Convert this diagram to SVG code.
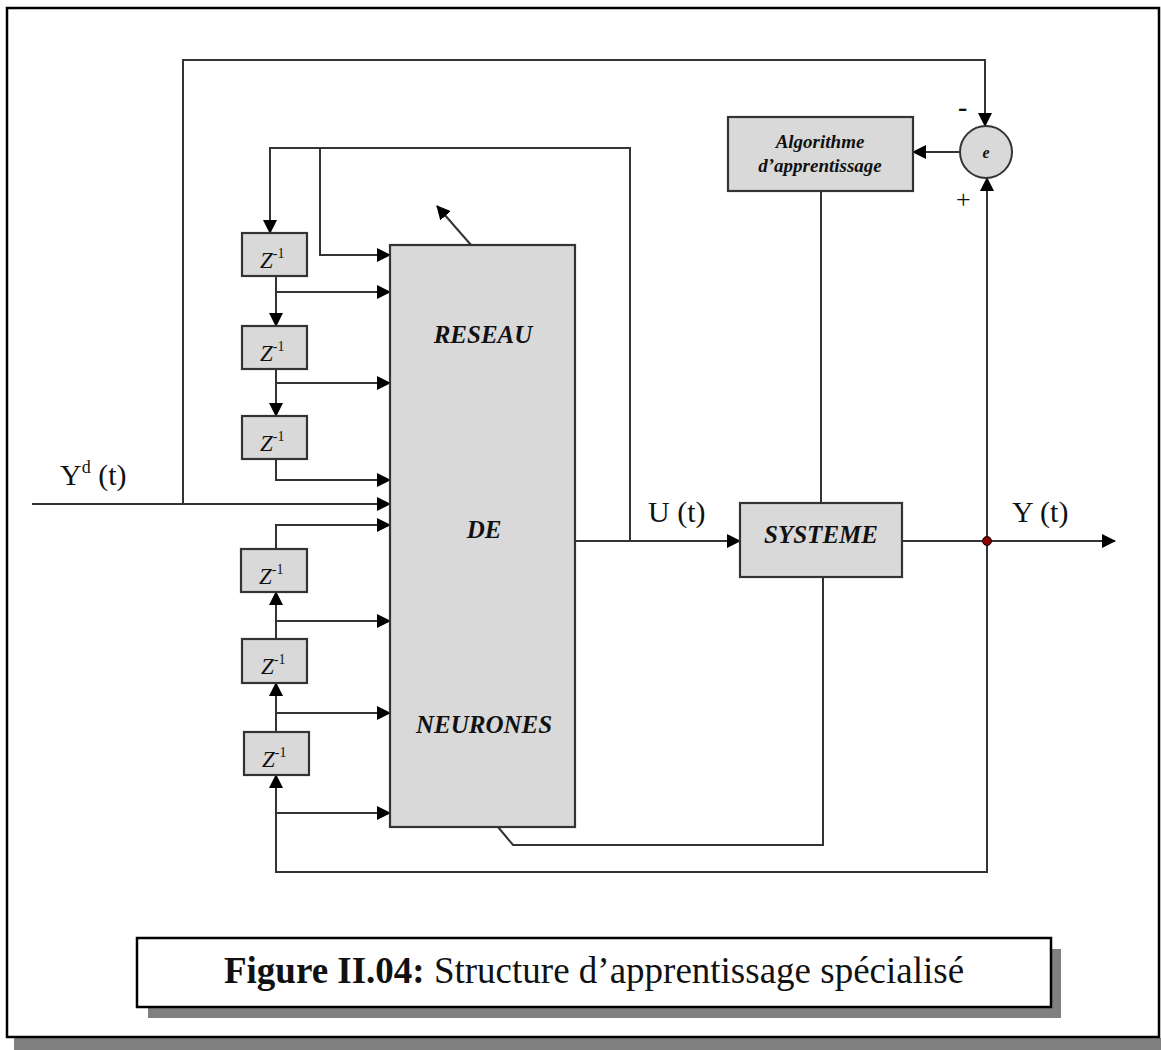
<svg xmlns="http://www.w3.org/2000/svg" width="1161" height="1050" viewBox="0 0 1161 1050">
<style>
.ln{fill:none;stroke:#333;stroke-width:2}
.box{fill:#d9d9d9;stroke:#333;stroke-width:2.2}
.serif{font-family:"Liberation Serif","Times New Roman",serif;fill:#111}
.z{font-size:23px;font-style:italic}
.sup{font-size:14px;font-style:normal}
.big{font-family:"Liberation Serif","Times New Roman",serif;font-weight:bold;font-style:italic;font-size:25px;fill:#111;text-anchor:middle}
.lbl{font-family:"Liberation Serif","Times New Roman",serif;font-size:30px;fill:#111}
</style>
<defs>
<marker id="ar" markerUnits="userSpaceOnUse" markerWidth="14" markerHeight="14" refX="13" refY="7" orient="auto">
<path d="M0,0 L14,7 L0,14 z" fill="#000"/>
</marker>
</defs>

<!-- outer frame -->
<rect x="14" y="1038" width="1147" height="12" fill="#808080"/>
<rect x="7" y="8" width="1152" height="1029" fill="none" stroke="#000" stroke-width="2.5"/>

<!-- connectors -->
<g id="connectors">
<path class="ln" d="M32,504 H390" marker-end="url(#ar)"/>
<path class="ln" d="M183,504 V60 H985 V126" marker-end="url(#ar)"/>
<path class="ln" d="M630,541 V148 H270 V233" marker-end="url(#ar)"/>
<path class="ln" d="M320,148 V255 H390" marker-end="url(#ar)"/>
<path class="ln" d="M276,276 V326" marker-end="url(#ar)"/>
<path class="ln" d="M276,292 H390" marker-end="url(#ar)"/>
<path class="ln" d="M276,369 V416" marker-end="url(#ar)"/>
<path class="ln" d="M276,383 H390" marker-end="url(#ar)"/>
<path class="ln" d="M276,459 V480 H390" marker-end="url(#ar)"/>
<path class="ln" d="M276,549 V525 H390" marker-end="url(#ar)"/>
<path class="ln" d="M276,639 V592" marker-end="url(#ar)"/>
<path class="ln" d="M276,621 H390" marker-end="url(#ar)"/>
<path class="ln" d="M276,732 V683" marker-end="url(#ar)"/>
<path class="ln" d="M276,713 H390" marker-end="url(#ar)"/>
<path class="ln" d="M987,541 V872 H276 V775" marker-end="url(#ar)"/>
<path class="ln" d="M276,813 H390" marker-end="url(#ar)"/>
<path class="ln" d="M987,541 V178" marker-end="url(#ar)"/>
<path class="ln" d="M575,541 H740" marker-end="url(#ar)"/>
<path class="ln" d="M902,541 H1115" marker-end="url(#ar)"/>
<path class="ln" d="M960,152 H913" marker-end="url(#ar)"/>
<path class="ln" d="M821,191 V503"/>
<path class="ln" d="M823,577 V845 H513 L498,827"/>
<path class="ln" d="M471,245 L437,206" marker-end="url(#ar)"/>
<circle cx="987" cy="541" r="4.5" fill="#8b0000" stroke="#000" stroke-width="1"/>
</g>

<!-- nodes -->
<g id="nn">
<rect class="box" x="390" y="245" width="185" height="582"/>
<text class="big" x="483" y="343">RESEAU</text>
<text class="big" x="484" y="538">DE</text>
<text class="big" x="484" y="733">NEURONES</text>
</g>

<g id="z1"><rect class="box" x="242" y="233" width="65" height="43"/><text class="serif z" x="260" y="268">Z<tspan class="sup" dy="-10">-1</tspan></text></g>
<g id="z2"><rect class="box" x="242" y="326" width="65" height="43"/><text class="serif z" x="260" y="361">Z<tspan class="sup" dy="-10">-1</tspan></text></g>
<g id="z3"><rect class="box" x="242" y="416" width="65" height="43"/><text class="serif z" x="260" y="451">Z<tspan class="sup" dy="-10">-1</tspan></text></g>
<g id="z4"><rect class="box" x="241" y="549" width="66" height="43"/><text class="serif z" x="259" y="584">Z<tspan class="sup" dy="-10">-1</tspan></text></g>
<g id="z5"><rect class="box" x="242" y="639" width="65" height="44"/><text class="serif z" x="261" y="674">Z<tspan class="sup" dy="-10">-1</tspan></text></g>
<g id="z6"><rect class="box" x="244" y="732" width="65" height="43"/><text class="serif z" x="262" y="767">Z<tspan class="sup" dy="-10">-1</tspan></text></g>

<g id="systeme">
<rect class="box" x="740" y="503" width="162" height="74"/>
<text class="big" x="821" y="543">SYSTEME</text>
</g>

<g id="algo">
<rect class="box" x="728" y="117" width="185" height="74"/>
<text class="big" style="font-size:19px" x="820" y="148">Algorithme</text>
<text class="big" style="font-size:19px" x="820" y="172">d’apprentissage</text>
</g>

<g id="sum">
<circle cx="986" cy="152" r="26" fill="#d9d9d9" stroke="#333" stroke-width="2"/>
<text class="big" style="font-size:16px" x="986" y="158">e</text>
<text class="serif" style="font-size:28px;font-weight:bold" x="958" y="116">-</text>
<text class="serif" style="font-size:26px" x="956" y="208">+</text>
</g>

<!-- labels -->
<g id="labels">
<text class="lbl" x="60" y="485">Y<tspan style="font-size:18px" dy="-12">d</tspan><tspan dy="12"> (t)</tspan></text>
<text class="lbl" x="648" y="522">U (t)</text>
<text class="lbl" x="1012" y="522">Y (t)</text>
</g>

<!-- caption -->
<g id="caption">
<rect x="148" y="949" width="913" height="69" fill="#808080"/>
<rect x="137" y="938" width="914" height="69" fill="#fff" stroke="#000" stroke-width="2.5"/>
<text class="serif" style="font-size:37px" x="594" y="983" text-anchor="middle"><tspan font-weight="bold">Figure II.04:</tspan> Structure d’apprentissage spécialisé</text>
</g>
</svg>
